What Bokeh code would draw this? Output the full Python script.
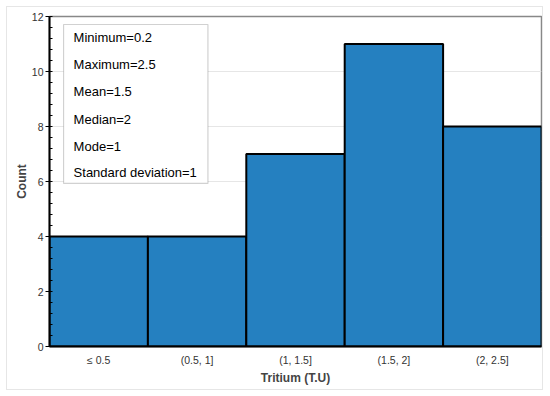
from bokeh.plotting import figure
from bokeh.models import BoxAnnotation, Label, FixedTicker, Range1d
from bokeh.embed import file_html
from bokeh.resources import INLINE

categories = ["\u2264 0.5", "(0.5, 1]", "(1, 1.5]", "(1.5, 2]", "(2, 2.5]"]
counts = [4, 4, 7, 11, 8]
stats_lines = ["Minimum=0.2", "Maximum=2.5", "Mean=1.5", "Median=2", "Mode=1",
               "Standard deviation=1"]
y_ticks = [0, 2, 4, 6, 8, 10, 12]

n = len(categories)
lefts = list(range(n))
rights = [i + 1 for i in range(n)]
centers = [i + 0.5 for i in range(n)]

p = figure(width=537, height=384, output_backend="svg", toolbar_location=None,
           x_range=Range1d(0, n), y_range=Range1d(0, 12),
           min_border_left=42, min_border_right=3, min_border_top=9, min_border_bottom=45)
p.styles = {"border": "1px solid #e6e6e6", "box-sizing": "border-box",
            "margin": "6px 0 0 6px"}

p.quad(left=lefts, right=rights, bottom=0, top=counts,
       fill_color="#2580c0", line_color="black", line_width=2)

FONT = "Liberation Sans"
# x axis
p.xaxis.ticker = FixedTicker(ticks=centers)
p.xaxis.major_label_overrides = {c: lab for c, lab in zip(centers, categories)}
p.xaxis.major_tick_line_color = None
p.xaxis.major_tick_in = 0
p.xaxis.major_tick_out = 0
p.xaxis.minor_tick_line_color = None
p.xaxis.axis_line_color = "black"
p.xaxis.axis_line_width = 2
p.xaxis.axis_label = "Tritium (T.U)"
p.xaxis.axis_label_text_font = FONT
p.xaxis.axis_label_text_font_style = "bold"
p.xaxis.axis_label_text_font_size = "12px"
p.xaxis.axis_label_standoff = 2
p.xaxis.major_label_text_font = FONT
p.xaxis.major_label_text_font_size = "10.5px"
p.xaxis.major_label_text_color = "#333333"
p.xaxis.major_label_standoff = 7

# y axis
p.yaxis.ticker = FixedTicker(ticks=y_ticks,
                             minor_ticks=[i * 0.4 for i in range(31)])
p.yaxis.axis_line_color = "black"
p.yaxis.axis_line_width = 2
p.yaxis.major_tick_in = 0
p.yaxis.major_tick_out = 4
p.yaxis.major_tick_line_color = "black"
p.yaxis.minor_tick_in = 3
p.yaxis.minor_tick_out = 0
p.yaxis.minor_tick_line_color = "black"
p.yaxis.axis_label = "Count"
p.yaxis.axis_label_text_font = FONT
p.yaxis.axis_label_text_font_style = "bold"
p.yaxis.axis_label_text_font_size = "12px"
p.yaxis.axis_label_standoff = 0
p.yaxis.major_label_text_font = FONT
p.yaxis.major_label_text_font_size = "10.5px"
p.yaxis.major_label_text_color = "#333333"
p.yaxis.major_label_standoff = 2

p.xgrid.grid_line_color = None
p.ygrid.ticker = FixedTicker(ticks=y_ticks)
p.ygrid.grid_line_color = "#e6e6e6"
p.ygrid.grid_line_width = 1
p.outline_line_color = "#888888"
p.outline_line_width = 1.5

# stats box
p.add_layout(BoxAnnotation(left=0.143, right=1.61, bottom=5.93, top=11.71,
                           fill_color="white", fill_alpha=1.0,
                           line_color="#666666", line_width=1.2, level="annotation"))
ys = [11.23, 10.24, 9.26, 8.27, 7.28, 6.32]
for txt, yy in zip(stats_lines, ys):
    p.add_layout(Label(x=0.245, y=yy, text=txt, text_font=FONT,
                       text_font_size="13px", text_baseline="middle",
                       text_color="black"))

p.background_fill_color = "white"
p.border_fill_color = "white"

open("out.html", "w").write(file_html(p, INLINE))
